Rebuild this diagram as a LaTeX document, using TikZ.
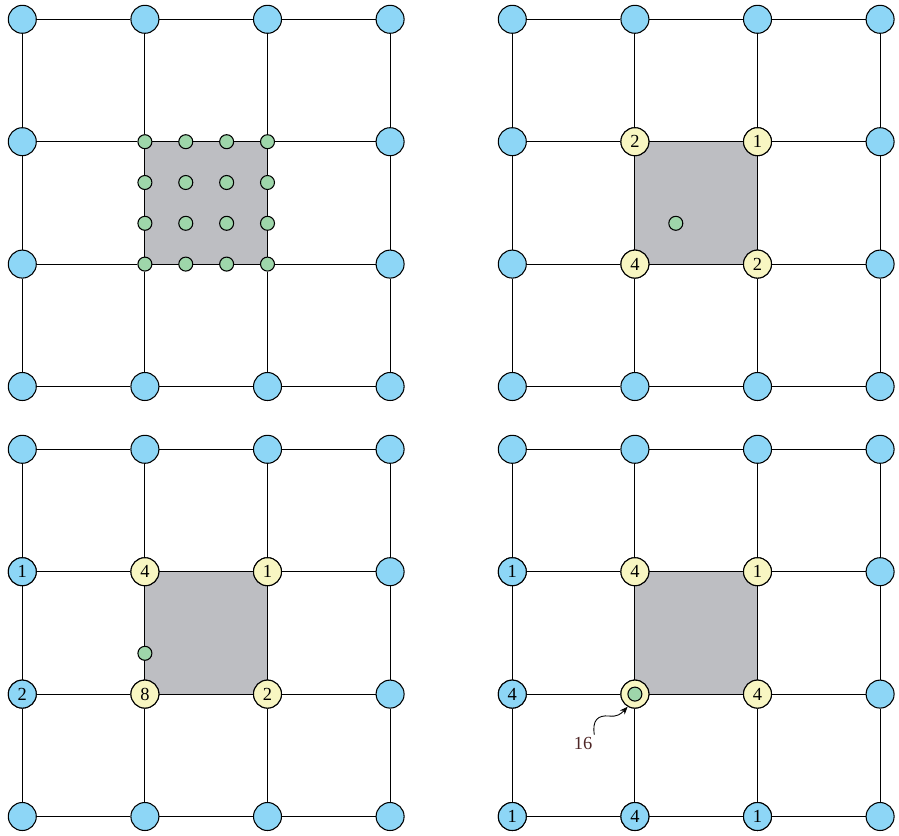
\documentclass[tikz,border=0pt]{standalone}
\usepackage{fontspec}
\setmainfont{Liberation Serif}
\usetikzlibrary{arrows.meta,backgrounds}
\definecolor{vtxblue}{HTML}{8DD6F6}
\definecolor{vtxyellow}{HTML}{F8F6C2}
\definecolor{dotgreen}{HTML}{9ED6AA}
\definecolor{cellgray}{HTML}{BDBEC2}
\definecolor{labelred}{HTML}{4E2626}

\begin{document}
\begin{tikzpicture}[
  x=0.02cm, y=-0.02cm,
  vtx/.style={circle, draw=black, line width=0.6pt, fill=vtxblue, minimum size=0.56cm,
              inner sep=0pt, font=\fontsize{10.5}{12}\selectfont},
  wvtx/.style={vtx, fill=vtxyellow},
  sample/.style={circle, draw=black, line width=0.6pt, fill=dotgreen, minimum size=0.28cm,
                 inner sep=0pt},
  gridline/.style={black, line width=0.6pt},
  lead/.style={-{Stealth[length=4.5pt,width=3.5pt]}, black, line width=0.5pt},
]
\useasboundingbox (0,0) rectangle (899,835);

% ── Four grids of texels ────────────────────────────────────────────────
\foreach \p/\sx/\sy in {A/0/0, B/490/0, C/0/430, D/490/430} {
  \begin{scope}[shift={(\sx,\sy)}]
    \foreach \c in {0,...,3}
      \foreach \r in {0,...,3} {
        % panel A has sample points instead of the four inner texels
        \def\kind{vtx}
        \ifnum\c>0 \ifnum\c<3 \ifnum\r>0 \ifnum\r<3
          \if\p A\def\kind{sample}\fi
        \fi\fi\fi\fi
        \node[\kind] (\p-\c-\r) at (22.3+\c*122.6, 19.3+\r*122.4) {};
      }
    \foreach \c in {0,...,3}
      \foreach \r [count=\s from 1] in {0,1,2} {
        \draw[gridline] (\p-\c-\r) -- (\p-\c-\s);
        \draw[gridline] (\p-\r-\c) -- (\p-\s-\c);
      }
    \begin{scope}[on background layer]
      \fill[cellgray] (\p-1-1.center) rectangle (\p-2-2.center);
    \end{scope}
  \end{scope}
}

% ── A · sample points (top left) ────────────────────────────────────────
\foreach \i in {0,...,3}
  \foreach \j in {0,...,3} {
    \ifnum\i=0 \else\ifnum\i=3 \else
      \node[sample] (A-s-\i-\j) at (144.9+\i*40.87, 141.7+\j*40.8) {};
    \fi\fi
    \ifnum\i=0 \ifnum\j>0 \ifnum\j<3
      \node[sample] (A-s-0-\j) at (144.9, 141.7+\j*40.8) {};
      \node[sample] (A-s-3-\j) at (267.5, 141.7+\j*40.8) {};
    \fi\fi\fi
  }

% ── B · bilinear weights (top right) ────────────────────────────────────
\begin{scope}[shift={(490,0)}]
  \node[wvtx] (B-w1) at (B-1-1) {2};
  \node[wvtx] (B-w2) at (B-2-1) {1};
  \node[wvtx] (B-w3) at (B-1-2) {4};
  \node[wvtx] (B-w4) at (B-2-2) {2};
  \node[sample] (B-s) at (185.8, 223.3) {};
\end{scope}

% ── C · edge sample (bottom left) ───────────────────────────────────────
\begin{scope}[shift={(0,430)}]
  \node[vtx]  (C-w1) at (C-0-1) {1};
  \node[vtx]  (C-w2) at (C-0-2) {2};
  \node[wvtx] (C-w3) at (C-1-1) {4};
  \node[wvtx] (C-w4) at (C-2-1) {1};
  \node[wvtx] (C-w5) at (C-1-2) {8};
  \node[wvtx] (C-w6) at (C-2-2) {2};
  \node[sample] (C-s) at (144.9, 223.3) {};
\end{scope}

% ── D · corner sample (bottom right) ────────────────────────────────────
\begin{scope}[shift={(490,430)}]
  \node[vtx]  (D-w1) at (D-0-1) {1};
  \node[vtx]  (D-w2) at (D-0-2) {4};
  \node[vtx]  (D-w3) at (D-0-3) {1};
  \node[vtx]  (D-w4) at (D-1-3) {4};
  \node[vtx]  (D-w5) at (D-2-3) {1};
  \node[wvtx] (D-w6) at (D-1-1) {4};
  \node[wvtx] (D-w7) at (D-2-1) {1};
  \node[wvtx] (D-w8) at (D-2-2) {4};
  \node[wvtx] (D-w9) at (D-1-2) {};
  \node[sample] (D-s) at (D-w9) {};
  \node[text=labelred, inner sep=1pt, font=\fontsize{10.5}{12}\selectfont] (l16) at (93,313) {16};
  \coordinate (k16) at (119,286);
  \draw[lead] (l16.north east) .. controls (102,290) and (108,285) .. (k16)
      .. controls (127,287) and (131,284) .. (D-w9.240);
\end{scope}

\end{tikzpicture}
\end{document}
